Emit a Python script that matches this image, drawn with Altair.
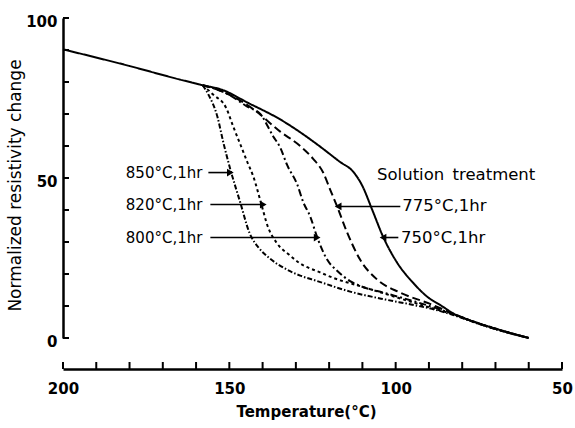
import altair as alt
import pandas as pd

# ---- data ----
series_names = ["Solution treatment", "775°C,1hr", "800°C,1hr", "820°C,1hr", "850°C,1hr"]

solid_T = [200, 180, 165, 158, 152, 144.6, 134.7, 128.7, 122.7, 116.7, 112.8, 110, 107.1, 103.8, 99.6, 94.8, 90.5, 86, 82.7, 75, 69.5, 60]
solid_V = [90.2, 85, 80.8, 79, 77.5, 73.6, 68.3, 64.3, 59.8, 55, 52, 47.5, 40.2, 31.7, 23.6, 17.3, 12.9, 9.9, 7.7, 4.6, 2.8, 0]

t775_T = [158, 152, 142.8, 134.7, 128.7, 124.8, 121.8, 119.7, 117.6, 114.6, 110.7, 105.6, 98.7, 90, 82.7, 75, 69.5, 60]
t775_V = [79, 77, 71.5, 64.5, 60, 56, 51.7, 46.4, 41.1, 33, 24.5, 18.3, 14.2, 10.8, 7.6, 4.5, 2.7, 0]

t800_T = [158, 150, 144.6, 140.7, 136.8, 134.7, 132.6, 129.6, 127.8, 125.7, 123.6, 120.6, 117.6, 113.7, 110.7, 103, 95.6, 88, 82.7, 75, 69.5, 60]
t800_V = [79, 76, 72.3, 70, 63, 59.5, 54, 48, 42.5, 38, 31.5, 24.5, 21, 17.8, 16.3, 14, 11.8, 9.4, 7.5, 4.5, 2.7, 0]

t820_T = [158, 154.8, 151, 148.8, 146.5, 144.6, 142.8, 140.5, 138.5, 135.6, 132, 129, 122.7, 118.8, 110, 100, 90, 82.7, 75, 69.5, 60]
t820_V = [79, 76, 72, 66, 60, 55, 50.5, 42.3, 35, 29.5, 26, 23.5, 20.5, 18.8, 16, 12.8, 9.6, 7.4, 4.5, 2.7, 0]

t850_T = [158, 156.3, 153.6, 151.8, 149.7, 146.7, 144, 141, 138, 133.8, 128.7, 123.6, 113.7, 103, 95, 88, 82.7, 75, 69.5, 60]
t850_V = [79, 76.1, 69.2, 61.1, 52.7, 42.3, 33, 28, 25, 22, 19.5, 17.8, 14.5, 12, 10.4, 8.8, 7.2, 4.4, 2.6, 0]

label_text = ["850°C,1hr", "820°C,1hr", "800°C,1hr", "Solution\u2002treatment", "775°C,1hr", "750°C,1hr"]
label_T = [158.1, 158.1, 158.1, 105.6, 98.0, 98.4]
label_V = [51.7, 41.7, 31.4, 51.0, 41.1, 31.4]
label_align = ["right", "right", "right", "left", "left", "left"]

arrow_from = [156.3, 155.7, 155.7, 98.6, 99.2]
arrow_to = [149.7, 139.8, 123.6, 117.3, 103.8]
arrow_V = [51.7, 41.7, 31.4, 41.1, 31.4]
arrow_dir = ["right", "right", "right", "left", "left"]

y_ticks = [0, 10, 20, 30, 40, 50, 60, 70, 80, 90, 100]
x_ticks = [50, 60, 70, 80, 90, 100, 110, 120, 130, 140, 150, 160, 170, 180, 190, 200]

# ---- tables ----
rows = []
for name, Ts, Vs in zip(series_names, [solid_T, t775_T, t800_T, t820_T, t850_T],
                        [solid_V, t775_V, t800_V, t820_V, t850_V]):
    for t, v in zip(Ts, Vs):
        rows.append({"series": name, "T": t, "V": v})
curves = pd.DataFrame(rows)

labels = pd.DataFrame({"text": label_text, "T": label_T, "V": label_V, "align": label_align})
arrows = pd.DataFrame({"T": arrow_from, "T2": arrow_to, "V": arrow_V, "dir": arrow_dir})
yt = pd.DataFrame({"v": y_ticks})
xt = pd.DataFrame({"t": x_ticks})

W, H = 499, 320
XOFF = 31
FONT = "DejaVu Sans"

xscale = alt.Scale(domain=[50, 200], reverse=True, nice=False, zero=False)
yscale = alt.Scale(domain=[0, 100], nice=False)

dash_range = [[1, 0], [8, 4], [7, 3, 2, 3], [3, 3], [5, 2, 1.5, 2]]

lines = alt.Chart(curves).mark_line(color="black", strokeWidth=2, interpolate="monotone").encode(
    x=alt.X("T:Q", scale=xscale,
            axis=alt.Axis(values=[200, 150, 100, 50], ticks=False, offset=XOFF, grid=False,
                          labelPadding=12, labelFlush=False, format="d",
                          title="Temperature(°C)", titlePadding=8, titleX=243)),
    y=alt.Y("V:Q", scale=yscale,
            axis=alt.Axis(values=[0, 50, 100], ticks=False, grid=False, labelPadding=6,
                          labelOffset=3, title="Normalized resistivity change",
                          titleX=-48, titleY=167, titleAlign="center", titleBaseline="middle",
                          titleFontWeight="normal", titleFontSize=17)),
    strokeDash=alt.StrokeDash("series:N", scale=alt.Scale(domain=series_names, range=dash_range),
                              legend=None),
    detail="series:N",
)

ytick_layer = alt.Chart(yt).mark_rule(color="black", strokeWidth=2).encode(
    y=alt.Y("v:Q", scale=yscale), x=alt.value(0), x2=alt.value(6)
)
xtick_layer = alt.Chart(xt).mark_rule(color="black", strokeWidth=2).encode(
    x=alt.X("t:Q", scale=xscale), y=alt.value(H + XOFF), y2=alt.value(H + XOFF - 7)
)

text_left = alt.Chart(labels[labels["align"] == "right"]).mark_text(
    align="right", baseline="middle", font=FONT, fontSize=15, color="black"
).encode(x=alt.X("T:Q", scale=xscale), y=alt.Y("V:Q", scale=yscale), text="text:N")
text_right = alt.Chart(labels[labels["align"] == "left"]).mark_text(
    align="left", baseline="middle", font=FONT, fontSize=16.5, color="black"
).encode(x=alt.X("T:Q", scale=xscale), y=alt.Y("V:Q", scale=yscale), text="text:N")

arrow_lines = alt.Chart(arrows).mark_rule(color="black", strokeWidth=1.6).encode(
    x=alt.X("T:Q", scale=xscale), x2="T2:Q", y=alt.Y("V:Q", scale=yscale)
)
heads_r = alt.Chart(arrows[arrows["dir"] == "right"]).mark_point(
    shape="triangle-right", filled=True, color="black", size=60, opacity=1
).encode(x=alt.X("T2:Q", scale=xscale), y=alt.Y("V:Q", scale=yscale))
heads_l = alt.Chart(arrows[arrows["dir"] == "left"]).mark_point(
    shape="triangle-left", filled=True, color="black", size=60, opacity=1
).encode(x=alt.X("T2:Q", scale=xscale), y=alt.Y("V:Q", scale=yscale))

chart = alt.layer(
    lines, ytick_layer, xtick_layer, arrow_lines, heads_r, heads_l, text_left, text_right
).properties(
    width=W, height=H, autosize=alt.AutoSizeParams(type="none"),
    padding={"left": 63, "top": 18, "right": 13, "bottom": 90},
    background="white",
).configure_view(strokeWidth=0).configure_axis(
    domainColor="black", domainWidth=2.5, labelColor="black", labelFont=FONT,
    labelFontSize=15, labelFontWeight="bold", titleFont=FONT, titleFontSize=15,
    titleColor="black", titleFontWeight="bold",
)

chart.save("out.html", embed_options={"renderer": "svg", "actions": False})
